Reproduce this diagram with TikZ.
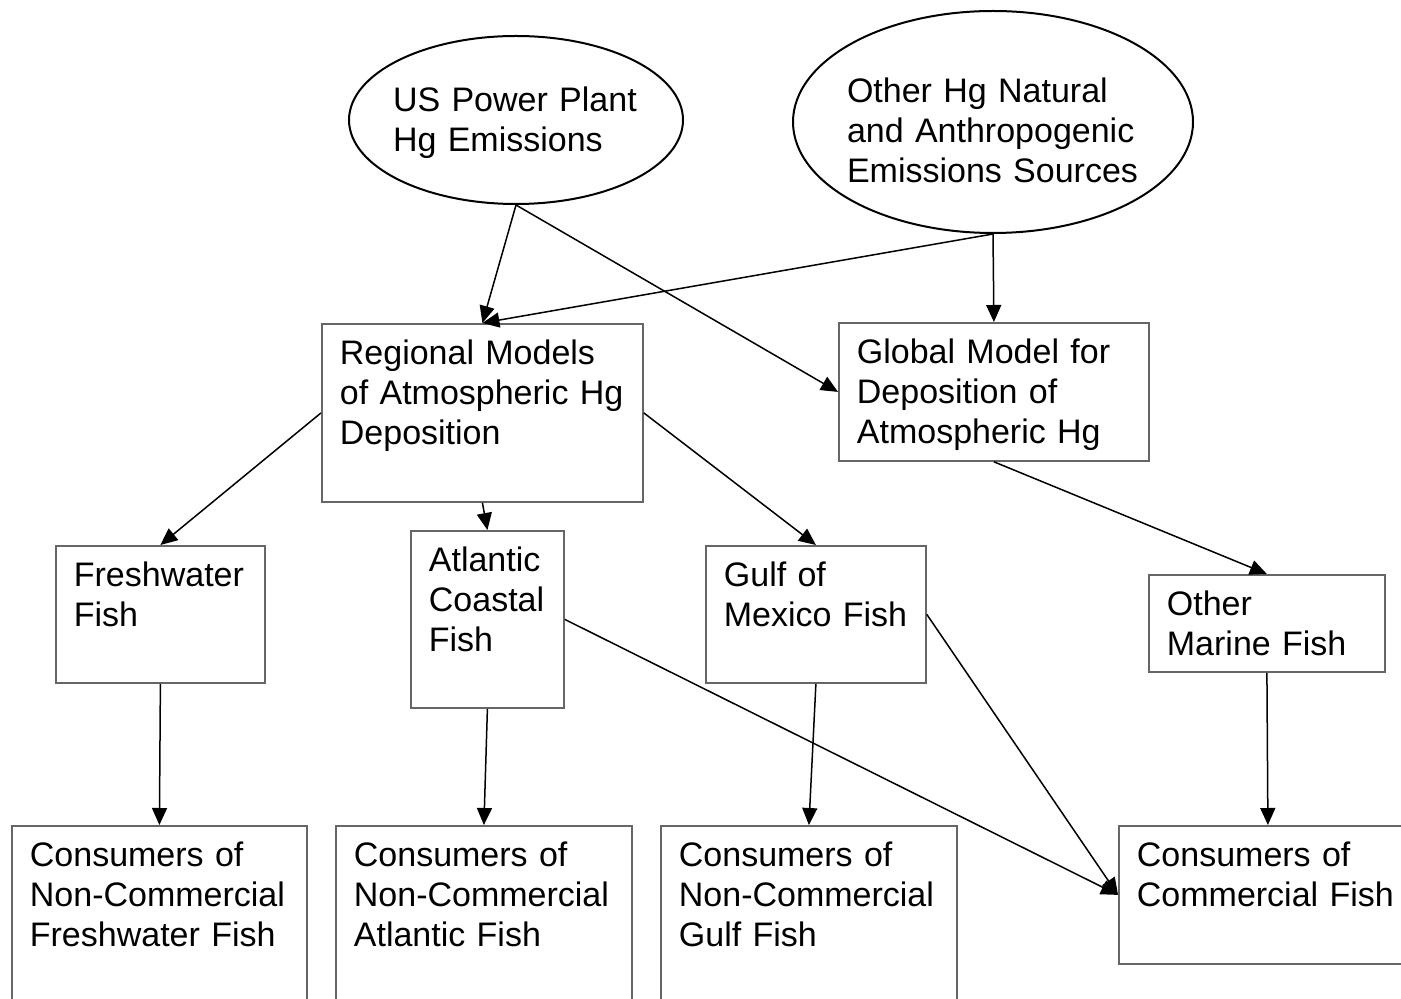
\documentclass[tikz,border=0pt]{standalone}
\usepackage{fontspec}
\setmainfont{Liberation Sans}
\usetikzlibrary{shapes.geometric,arrows.meta}
\hyphenpenalty=10000
\exhyphenpenalty=10000

\begin{document}
\begin{tikzpicture}[x=0.5pt,y=-0.5pt]
\tikzset{every node/.style={font=\fontsize{17}{20}\selectfont},
source/.style={draw,ellipse,line width=1pt,align=left,inner ysep=0pt,text height=15pt},
fishbox/.style={draw=black!60,line width=0.9pt,anchor=north west,align=left,inner xsep=9pt,inner ysep=0pt,text height=20.5pt},
link/.style={->,line width=0.75pt},
>={Triangle[length=8.5pt,width=7.5pt]}}
\useasboundingbox (0,0) rectangle (1401,999);
\clip (0,0) rectangle (1401,999);
\node[source,minimum width=167pt,minimum height=84pt,text width=123pt,inner xsep=-2.5pt,text depth=23pt] (usplant) at (516,120) {US Power Plant\\Hg Emissions};
\node[source,minimum width=200pt,minimum height=111pt,text width=146pt,inner xsep=-3pt,text depth=34pt] (othersrc) at (993,122) {Other Hg Natural\\and Anthropogenic\\Emissions Sources};
\node[fishbox,text width=142.5pt,text depth=68.5pt] (regional) at (321,323) {Regional Models\\of Atmospheric Hg\\Deposition};
\node[fishbox,text width=137pt,text depth=48.5pt] (global) at (838,322) {Global Model for\\Deposition of\\Atmospheric Hg};
\node[fishbox,text width=86.5pt,text depth=48pt] (freshfish) at (55,545) {Freshwater\\Fish};
\node[fishbox,text width=58.5pt,text depth=68pt] (atlfish) at (410,530) {Atlantic\\Coastal\\Fish};
\node[fishbox,text width=92pt,text depth=48pt] (gulffish) at (705,545) {Gulf of\\Mexico Fish};
\node[fishbox,text width=100pt,text depth=28pt] (marinefish) at (1148,574) {Other\\Marine Fish};
\node[fishbox,text width=129.5pt,text depth=74.5pt] (freshcons) at (11,825) {Consumers of\\Non-Commercial\\Freshwater Fish};
\node[fishbox,text width=130pt,text depth=74.5pt] (atlcons) at (335,825) {Consumers of\\Non-Commercial\\Atlantic Fish};
\node[fishbox,text width=130pt,text depth=74.5pt] (gulfcons) at (660,825) {Consumers of\\Non-Commercial\\Gulf Fish};
\node[fishbox,text width=131pt,text depth=48.5pt] (comcons) at (1118,825) {Consumers of\\Commercial Fish};
\foreach \a/\b in {usplant.south/regional.north,usplant.south/global.west,othersrc.south/regional.north,othersrc.south/global.north,
regional.west/freshfish.north,regional.south/atlfish.north,regional.east/gulffish.north,global.south/marinefish.north,
freshfish.south/freshcons.north,atlfish.south/atlcons.north,gulffish.south/gulfcons.north,marinefish.south/comcons.north,
atlfish.east/comcons.west,gulffish.east/comcons.west}
{
    \draw[link] (\a) -- (\b);
}
\end{tikzpicture}
\end{document}
